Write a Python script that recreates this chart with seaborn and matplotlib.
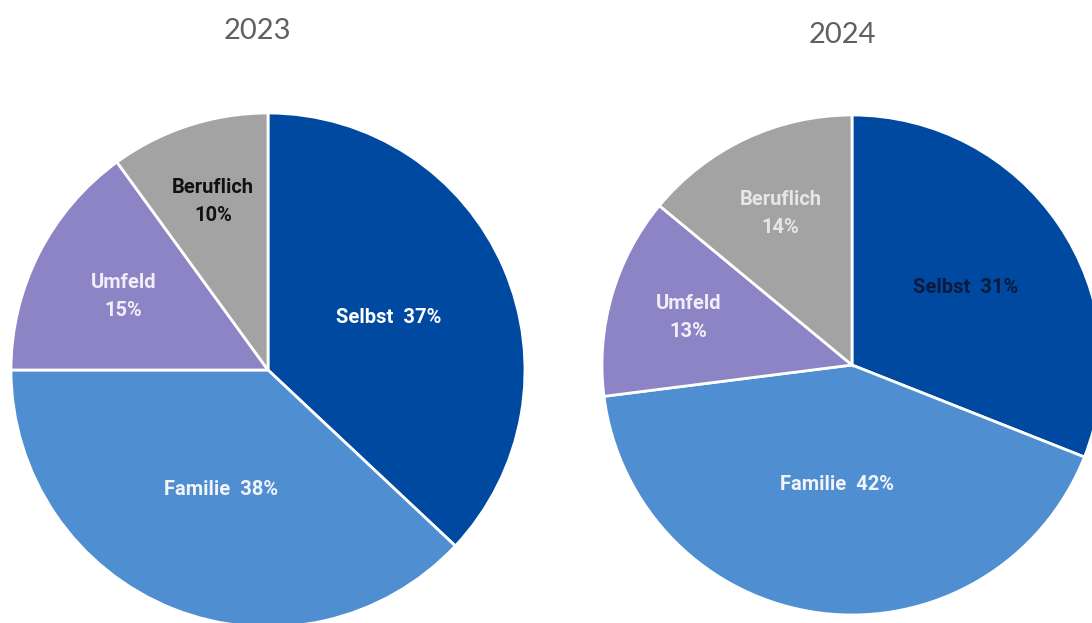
import numpy as np
import matplotlib.pyplot as plt
import seaborn as sns

# data
years = ['2023', '2024']
categories = ['Selbst', 'Familie', 'Umfeld', 'Beruflich']
shares_2023 = [37, 38, 15, 10]
shares_2024 = [31, 42, 13, 14]

# styles
slice_colors = ['#0049a1', '#4f8fd1', '#8c84c4', '#a3a3a3']
label_colors_2023 = ['white', '#f2f4fa', '#f0eef8', '#111111']
label_colors_2024 = ['#0b1a3c', '#f2f4fa', '#f0eef8', '#e6e6e6']
label_dist_2023 = [0.51, 0.50, 0.63, 0.69]
label_dist_2024 = [0.55, 0.48, 0.68, 0.67]
two_lines = [False, False, True, True]

W, H = 1092, 623


def draw_pie(ax, year, shares, label_colors, label_dist):
    wedges, _ = ax.pie(shares, colors=slice_colors, startangle=90, counterclock=False,
                       wedgeprops={'edgecolor': 'white', 'linewidth': 2})
    for w, cat, val, col, dist, split in zip(wedges, categories, shares,
                                             label_colors, label_dist, two_lines):
        ang = np.deg2rad((w.theta1 + w.theta2) / 2)
        sep = '\n' if split else '  '
        ax.text(dist * np.cos(ang), dist * np.sin(ang), f'{cat}{sep}{val}%',
                ha='center', va='center', color=col, fontsize=14.5, fontweight='bold',
                linespacing=1.6, family='Roboto')
    ax.text(-0.04, 1.32, year, ha='center', va='center', fontsize=21,
            color='#606060', family='Lato', clip_on=False)
    ax.set_xlim(-1.05, 1.05)
    ax.set_ylim(-1.05, 1.05)
    ax.set_aspect('auto')
    ax.axis('off')


sns.set_theme(style='white')
fig = plt.figure(figsize=(W / 100, H / 100), dpi=100)


def pie_axes(cx, cy, r):
    half = 1.05 * r
    return fig.add_axes([(cx - half) / W, (H - cy - half) / H, 2 * half / W, 2 * half / H])


ax1 = pie_axes(268, 370, 257)
ax2 = pie_axes(852, 365, 250)
draw_pie(ax1, years[0], shares_2023, label_colors_2023, label_dist_2023)
draw_pie(ax2, years[1], shares_2024, label_colors_2024, label_dist_2024)

fig.savefig('out.png', dpi=100)
